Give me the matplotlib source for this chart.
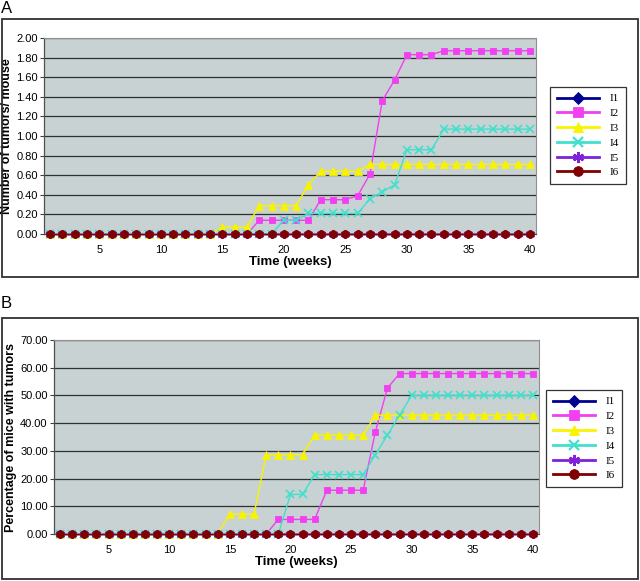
import matplotlib
matplotlib.use("Agg")
import matplotlib.pyplot as plt
from matplotlib.patches import Rectangle
from matplotlib.lines import Line2D

weeks = list(range(1, 41))
series_names = ["I1", "I2", "I3", "I4", "I5", "I6"]

# Panel A: number of tumors / mouse
a_I1 = [0.0] * 40
a_I2 = [0, 0, 0, 0, 0, 0, 0, 0, 0, 0, 0, 0, 0, 0, 0, 0, 0,
        0.14, 0.14, 0.14, 0.14, 0.14, 0.35, 0.35, 0.35, 0.39, 0.61, 1.36, 1.57,
        1.83, 1.83, 1.83, 1.87, 1.87, 1.87, 1.87, 1.87, 1.87, 1.87, 1.87]
a_I3 = [0, 0, 0, 0, 0, 0, 0, 0, 0, 0, 0, 0, 0, 0,
        0.07, 0.07, 0.07, 0.29, 0.29, 0.29, 0.29, 0.50, 0.64, 0.64, 0.64, 0.64,
        0.71, 0.71, 0.71, 0.71, 0.71, 0.71, 0.71, 0.71, 0.71, 0.71, 0.71, 0.71, 0.71, 0.71]
a_I4 = [0, 0, 0, 0, 0, 0, 0, 0, 0, 0, 0, 0, 0, 0, 0, 0, 0, 0, 0,
        0.14, 0.14, 0.21, 0.21, 0.21, 0.21, 0.21, 0.36, 0.43, 0.50,
        0.86, 0.86, 0.86, 1.07, 1.07, 1.07, 1.07, 1.07, 1.07, 1.07, 1.07]
a_I5 = [0.0] * 40
a_I6 = [0.0] * 40

# Panel B: percentage of mice with tumors
b_I1 = [0.0] * 40
b_I2 = [0, 0, 0, 0, 0, 0, 0, 0, 0, 0, 0, 0, 0, 0, 0, 0, 0, 0,
        5.26, 5.26, 5.26, 5.26, 15.79, 15.79, 15.79, 15.79, 36.84, 52.63,
        57.89, 57.89, 57.89, 57.89, 57.89, 57.89, 57.89, 57.89, 57.89, 57.89, 57.89, 57.89]
b_I3 = [0, 0, 0, 0, 0, 0, 0, 0, 0, 0, 0, 0, 0, 0,
        7.14, 7.14, 7.14, 28.57, 28.57, 28.57, 28.57, 35.71, 35.71, 35.71, 35.71, 35.71,
        42.86, 42.86, 42.86, 42.86, 42.86, 42.86, 42.86, 42.86, 42.86, 42.86, 42.86, 42.86, 42.86, 42.86]
b_I4 = [0, 0, 0, 0, 0, 0, 0, 0, 0, 0, 0, 0, 0, 0, 0, 0, 0, 0, 0,
        14.29, 14.29, 21.43, 21.43, 21.43, 21.43, 21.43, 28.57, 35.71, 42.86,
        50.0, 50.0, 50.0, 50.0, 50.0, 50.0, 50.0, 50.0, 50.0, 50.0, 50.0]
b_I5 = [0.0] * 40
b_I6 = [0.0] * 40

xticks = [5, 10, 15, 20, 25, 30, 35, 40]
a_yticks = [0.0, 0.2, 0.4, 0.6, 0.8, 1.0, 1.2, 1.4, 1.6, 1.8, 2.0]
b_yticks = [0, 10, 20, 30, 40, 50, 60, 70]

colors = ["#000090", "#f040f0", "#f8f400", "#40e0cc", "#8020d8", "#800000"]
markers = ["D", "s", "^", "x", (6, 2, 0), "o"]
msizes = [4.5, 5, 6, 5.5, 6.5, 5.5]

W, H = 640, 581
fig = plt.figure(figsize=(W / 100, H / 100), dpi=100)
plt.rcParams["font.family"] = ["Liberation Sans", "DejaVu Sans"]

def fx(px):
    return px / W

def fy(py):
    return 1 - py / H

# panel boxes
for (y0, y1) in [(19, 277), (318, 579)]:
    fig.patches.append(Rectangle((fx(2), fy(y1)), fx(638) - fx(2), fy(y0) - fy(y1),
                                 transform=fig.transFigure, fill=False,
                                 edgecolor="#303030", linewidth=1.3))

fig.text(fx(1), fy(1), "A", ha="left", va="top", fontsize=12)
fig.text(fx(1), fy(296), "B", ha="left", va="top", fontsize=12)


def make_panel(rect, data, yticks, ylim, ylabel, leg_anchor):
    l, t, r, b = rect
    ax = fig.add_axes([fx(l), fy(b), fx(r) - fx(l), fy(t) - fy(b)])
    ax.set_facecolor("#c8d2d2")
    for i, (vals, name) in enumerate(zip(data, series_names)):
        mk = markers[i]
        ax.plot(weeks, vals, color=colors[i], linewidth=1.0, marker=mk,
                markersize=msizes[i], markeredgewidth=1.2 if mk in ("x",) or isinstance(mk, tuple) else 0.6,
                markeredgecolor=colors[i], markerfacecolor=colors[i],
                label=name, zorder=3 + i, clip_on=False)
    ax.set_xlim(0.5, 40.5)
    ax.set_ylim(*ylim)
    ax.set_xticks(xticks)
    ax.set_xticklabels([str(v) for v in xticks])
    ax.set_yticks(yticks)
    ax.set_yticklabels(["%.2f" % v for v in yticks])
    ax.yaxis.grid(True, color="#303030", linewidth=0.9)
    ax.set_axisbelow(True)
    ax.tick_params(axis="both", labelsize=8, colors="black")
    ax.tick_params(axis="y", length=3, width=0.8, color="#404040", pad=1.5)
    ax.tick_params(axis="x", length=0, pad=8)
    for s in ["left", "bottom"]:
        ax.spines[s].set_color("#505050")
        ax.spines[s].set_linewidth(0.9)
    for s in ["top", "right"]:
        ax.spines[s].set_color("#909090")
        ax.spines[s].set_linewidth(0.8)
    ax.set_xlabel("Time (weeks)", fontsize=9.5, fontweight="bold", labelpad=1)
    ax.set_ylabel(ylabel, fontsize=9, fontweight="bold", labelpad=2)
    handles = [Line2D([], [], color=colors[i], linewidth=2.0, marker=markers[i],
                      markersize=msizes[i] + 1.5, markeredgewidth=1.6 if i in (3, 4) else 0.6,
                      markerfacecolor=colors[i], markeredgecolor=colors[i])
               for i in range(6)]
    leg = fig.legend(handles, series_names, loc="upper left",
                     bbox_to_anchor=(fx(leg_anchor[0]), fy(leg_anchor[1])),
                     bbox_transform=fig.transFigure,
                     prop={"family": ["Liberation Serif"], "size": 8},
                     frameon=True, fancybox=False, edgecolor="black",
                     handlelength=3.8, handletextpad=1.0, labelspacing=0.45,
                     borderpad=0.6, borderaxespad=0)
    leg.get_frame().set_linewidth(0.9)
    return ax

make_panel((44, 38, 536, 234), [a_I1, a_I2, a_I3, a_I4, a_I5, a_I6],
           a_yticks, (0, 2.0), "Number of tumors/ mouse", (550, 87))
make_panel((54, 340, 539, 534), [b_I1, b_I2, b_I3, b_I4, b_I5, b_I6],
           b_yticks, (0, 70), "Percentage of mice with tumors", (546, 390))

fig.savefig("out.png", dpi=100)
